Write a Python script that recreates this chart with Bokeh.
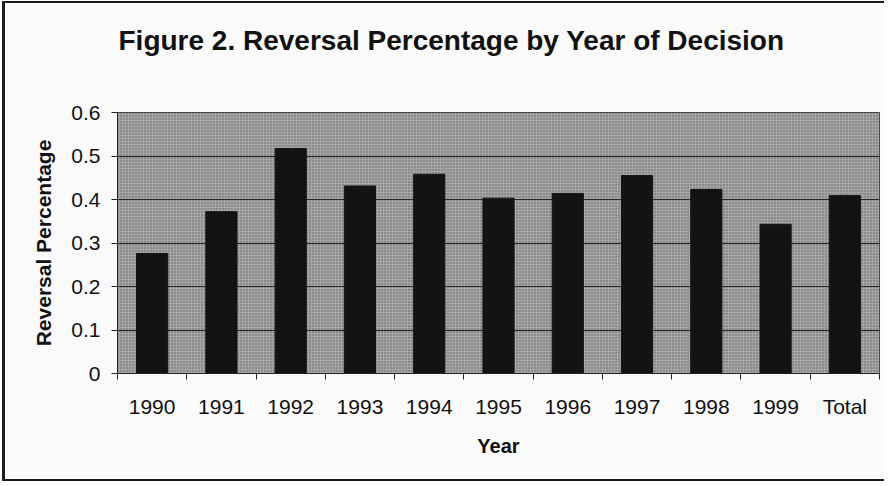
from bokeh.plotting import figure
from bokeh.models import FixedTicker, Range1d, Title, BoxAnnotation, LinearAxis
from bokeh.embed import file_html
from bokeh.resources import INLINE

categories = ["1990", "1991", "1992", "1993", "1994", "1995", "1996",
              "1997", "1998", "1999", "Total"]
reversal = [0.276, 0.372, 0.517, 0.431, 0.458, 0.403, 0.414,
            0.455, 0.423, 0.343, 0.409]
y_ticks = [0, 0.1, 0.2, 0.3, 0.4, 0.5, 0.6]
y_tick_labels = ["0", "0.1", "0.2", "0.3", "0.4", "0.5", "0.6"]

title_text = "Figure 2. Reversal Percentage by Year of Decision"
x_title = "Year"
y_title = "Reversal Percentage"

n = len(categories)
centers = [i + 0.5 for i in range(n)]
bounds = list(range(n + 1))

FONT = "Liberation Sans"
INK = "#131313"
PAPER = "#fafafa"

p = figure(width=882, height=480,
           x_range=Range1d(0, n), y_range=Range1d(0, 0.6),
           output_backend="svg", toolbar_location=None,
           min_border_left=112, min_border_right=8,
           min_border_top=109, min_border_bottom=110)

xa = p.below[0]
ya = p.left[0]

p.styles = {"border-left": "3px solid #1c1c1c",
            "border-top": "2px solid #1c1c1c",
            "border-bottom": "2px solid #1c1c1c",
            "margin-left": "2px", "margin-top": "1px"}

p.border_fill_color = PAPER
p.background_fill_color = "#a6a6a6"
p.outline_line_color = "#2a2a2a"
p.outline_line_width = 1

# stippled plot-area texture (spans the frame, no coordinates given)
shade = BoxAnnotation(fill_color="#a6a6a6", fill_alpha=1.0,
                      hatch_pattern=".", hatch_color="#4a4a4a",
                      hatch_scale=3, hatch_alpha=0.8,
                      line_color=None, level="image")
p.add_layout(shade)

p.vbar(x=centers, top=reversal, width=0.45, fill_color=INK, line_color=INK)

# invisible spacer between frame and title (paper-coloured, no labels)
spacer = LinearAxis(ticker=FixedTicker(ticks=[bounds[0]], minor_ticks=[]),
                    axis_line_color=None, major_tick_line_color=PAPER,
                    minor_tick_line_color=None, major_tick_out=52,
                    major_tick_in=0, minor_tick_out=0, minor_tick_in=0,
                    major_label_overrides={bounds[0]: ""},
                    major_label_text_font_size="0px",
                    major_label_standoff=0)
p.add_layout(spacer, "above")

t = Title(text=title_text, align="left", offset=1,
          text_font=FONT, text_font_size="28px", text_font_style="bold",
          text_color="#111111", standoff=10)
p.add_layout(t, "above")

# x axis
xa.ticker = FixedTicker(ticks=centers, minor_ticks=bounds)
xa.major_label_overrides = {c: lab for c, lab in zip(centers, categories)}
xa.major_tick_in = 0
xa.major_tick_out = 0
xa.minor_tick_in = 0
xa.minor_tick_out = 6
xa.minor_tick_line_color = "#222222"
xa.axis_line_color = "#222222"
xa.major_label_text_font = FONT
xa.major_label_text_font_size = "21px"
xa.major_label_text_color = "#111111"
xa.major_label_standoff = 15
xa.axis_label = x_title
xa.axis_label_text_font = FONT
xa.axis_label_text_font_size = "20px"
xa.axis_label_text_font_style = "bold"
xa.axis_label_text_color = "#111111"
xa.axis_label_standoff = 14

# y axis
ya.ticker = FixedTicker(ticks=y_ticks, minor_ticks=[])
ya.major_label_overrides = {v: lab for v, lab in zip(y_ticks, y_tick_labels)}
ya.major_tick_in = 0
ya.major_tick_out = 6
ya.major_tick_line_color = "#222222"
ya.axis_line_color = "#222222"
ya.major_label_text_font = FONT
ya.major_label_text_font_size = "21px"
ya.major_label_text_color = "#111111"
ya.major_label_standoff = 11
ya.axis_label = y_title
ya.axis_label_text_font = FONT
ya.axis_label_text_font_size = "21px"
ya.axis_label_text_font_style = "bold"
ya.axis_label_text_color = "#111111"
ya.axis_label_standoff = 13

p.xgrid.grid_line_color = None
p.ygrid.ticker = ya.ticker
p.ygrid.grid_line_color = "#262626"
p.ygrid.grid_line_width = 1

open("out.html", "w").write(file_html(p, INLINE))
